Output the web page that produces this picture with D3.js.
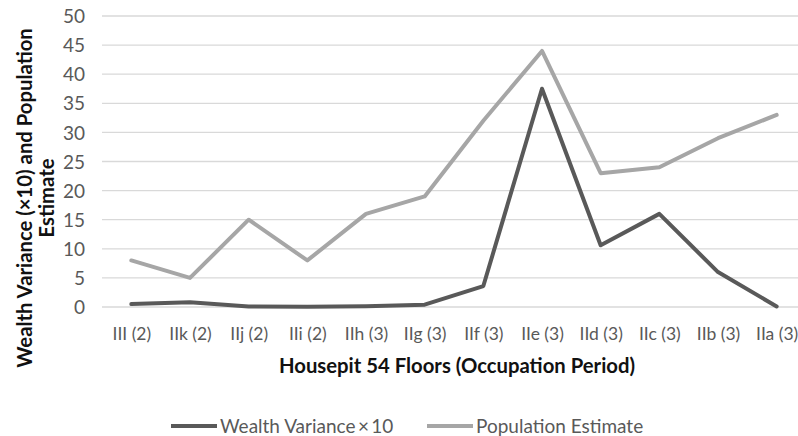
<!DOCTYPE html>
<html>
<head>
<meta charset="utf-8">
<script src="https://cdn.jsdelivr.net/npm/d3@7"></script>
<style>
  html, body { margin: 0; padding: 0; background: #fff; }
  svg { display: block; }
  text { font-family: Lato, "Open Sans", sans-serif; }
</style>
</head>
<body>
<svg id="chart" width="798" height="436"></svg>
<script>
// Housepit 54 floors, oldest to youngest
const floors = ["III (2)", "IIk (2)", "IIj (2)", "IIi (2)", "IIh (3)", "IIg (3)",
                "IIf (3)", "IIe (3)", "IId (3)", "IIc (3)", "IIb (3)", "IIa (3)"];
const wealthVariance10 = [0.5, 0.8, 0.1, 0.05, 0.15, 0.4, 3.6, 37.5, 10.6, 16, 6, 0.1];
const populationEstimate = [8, 5, 15, 8, 16, 19, 32, 44, 23, 24, 29, 33];
const yTicks = [0, 5, 10, 15, 20, 25, 30, 35, 40, 45, 50];
const seriesNames = ["Wealth Variance\u2009\u00d7\u200910", "Population Estimate"];
const seriesColors = ["#595959", "#a6a6a6"];

const svg = d3.select("#chart");
const plot = { left: 102, right: 806, top: 16, bottom: 307 };

const x = d3.scalePoint().domain(floors).range([plot.left, plot.right]).padding(0.5);
const y = d3.scaleLinear().domain([0, 50]).range([plot.bottom, plot.top]);

// horizontal gridlines
svg.append("g")
  .selectAll("line")
  .data(yTicks)
  .join("line")
  .attr("x1", plot.left).attr("x2", plot.right)
  .attr("y1", d => y(d)).attr("y2", d => y(d))
  .attr("stroke", "#d9d9d9").attr("stroke-width", 1.3);

// y axis labels
const yAxis = d3.axisLeft(y).tickValues(yTicks).tickSize(0).tickPadding(0);
svg.append("g")
  .attr("transform", "translate(85,0)")
  .call(yAxis)
  .call(g => g.select(".domain").remove())
  .call(g => g.selectAll("text")
    .attr("fill", "#595959").attr("font-size", 19).attr("dy", "0.35em"));

// x axis labels
const xAxis = d3.axisBottom(x).tickSize(0).tickPadding(0);
svg.append("g")
  .attr("transform", "translate(0,334)")
  .call(xAxis)
  .call(g => g.select(".domain").remove())
  .call(g => g.selectAll("text")
    .attr("fill", "#595959").attr("font-size", 17.5).attr("y", 0).attr("dy", "0.35em"));

// lines
const series = [populationEstimate, wealthVariance10];
const colors = [seriesColors[1], seriesColors[0]];
const line = d3.line().x((d, i) => x(floors[i])).y(d => y(d));
svg.append("g")
  .selectAll("path")
  .data(series)
  .join("path")
  .attr("d", d => line(d))
  .attr("fill", "none")
  .attr("stroke", (d, i) => colors[i])
  .attr("stroke-width", 4)
  .attr("stroke-linejoin", "round")
  .attr("stroke-linecap", "round");

// axis titles
svg.append("text")
  .attr("x", 457).attr("y", 373)
  .attr("text-anchor", "middle")
  .attr("font-size", 20.3).attr("font-weight", "bold").attr("fill", "#111")
  .text("Housepit 54 Floors (Occupation Period)");

const yTitle = svg.append("text")
  .attr("transform", "translate(0,198) rotate(-90)")
  .attr("text-anchor", "middle")
  .attr("font-size", 20.3).attr("font-weight", "bold").attr("fill", "#111");
yTitle.append("tspan").attr("x", 0).attr("y", 32).text("Wealth Variance (\u00d710) and Population");
yTitle.append("tspan").attr("x", 0).attr("y", 54).text("Estimate");

// legend
const legendItems = [
  { name: seriesNames[0], color: seriesColors[0], x: 171 },
  { name: seriesNames[1], color: seriesColors[1], x: 427 }
];
const lg = svg.append("g").selectAll("g").data(legendItems).join("g")
  .attr("transform", d => `translate(${d.x},426)`);
lg.append("line")
  .attr("x1", 0).attr("x2", 46).attr("y1", 0).attr("y2", 0)
  .attr("stroke", d => d.color).attr("stroke-width", 4);
lg.append("text")
  .attr("x", 49).attr("dy", "0.35em")
  .attr("font-size", 19).attr("fill", "#595959")
  .text(d => d.name);
</script>
</body>
</html>
